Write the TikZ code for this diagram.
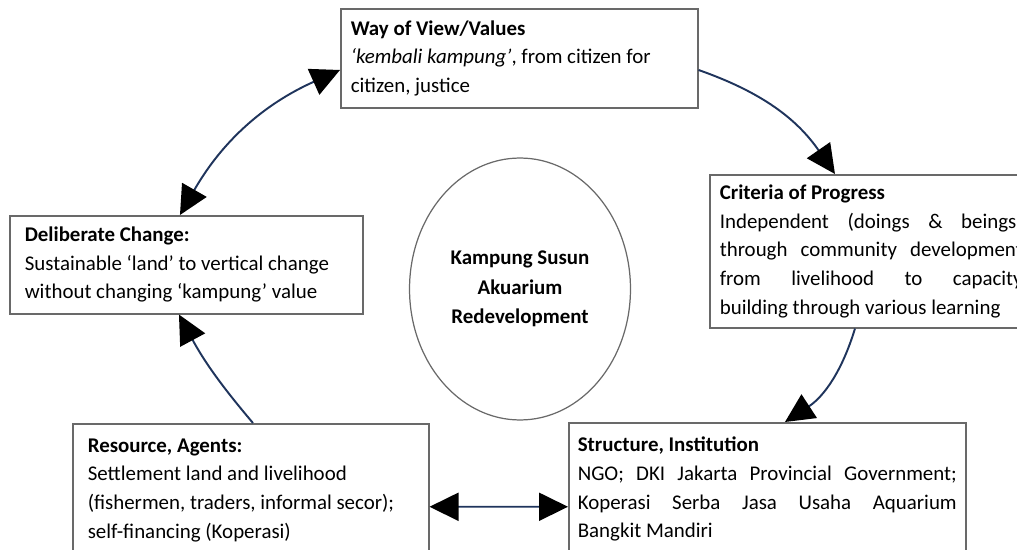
\documentclass[tikz,border=0pt]{standalone}
\usepackage{fontspec}
\setmainfont{Carlito}
\usetikzlibrary{arrows.meta,shapes.geometric}

\definecolor{navy}{RGB}{31,52,92}
\definecolor{frame}{RGB}{105,105,105}
\hyphenpenalty=10000
\tolerance=9999

\begin{document}
\frenchspacing
\begin{tikzpicture}[
  x=0.02cm, y=-0.02cm,
  txt/.style={font=\fontsize{11.9pt}{16.3pt}\selectfont},
  box/.style={txt, draw=frame, line width=0.9pt, fill=white, anchor=north west, inner ysep=0pt},
  hub/.style={ellipse, draw=frame, line width=0.7pt, minimum width=4.42cm, minimum height=5.24cm,
    inner sep=0pt, align=center, font=\fontsize{11.9pt}{16.8pt}\selectfont\bfseries},
  tip/.tip={Triangle[length=0.58cm, width=0.56cm, color=black]},
  flow/.style={draw=navy, line width=1.1pt, -tip},
  both/.style={draw=navy, line width=1.1pt, tip-tip}
]
\useasboundingbox (0,0) rectangle (1017,550);
\clip (0,0) rectangle (1017,550);

% --- centre ---
\node[hub] (hub) at (520,289) {Kampung Susun\\Akuarium\\Redevelopment};

% --- boxes ---
\node[box, inner xsep=0.2cm, text width=6.74cm, minimum height=1.98cm, align=flush left] (way) at (340,8)
  {\textbf{Way of View/Values}\\\textit{`kembali kampung'}, from citizen for\\citizen, justice};
\node[box, inner xsep=0.2cm, text width=6.06cm, minimum height=3.06cm, align=justify] (crit) at (709,174)
  {\textbf{Criteria of Progress}\\Independent (doings \& beings)\linebreak through community development\linebreak
   from livelihood to capacity\linebreak building through various learning};
\node[box, inner xsep=0.3cm, text width=6.46cm, minimum height=1.96cm, align=flush left] (delib) at (9,215)
  {\textbf{Deliberate Change:}\\Sustainable `land' to vertical change\\without changing `kampung' value};
\node[box, inner xsep=0.3cm, text width=6.52cm, minimum height=2.66cm, align=flush left] (res) at (72,423)
  {\textbf{Resource, Agents:}\\Settlement land and livelihood\\(fishermen, traders, informal secor);\\self-financing (Koperasi)};
\node[box, inner xsep=0.18cm, text width=7.58cm, minimum height=2.66cm, align=justify] (str) at (568,422)
  {\textbf{Structure, Institution}\\NGO; DKI Jakarta Provincial Government;\linebreak
   Koperasi Serba Jasa Usaha Aquarium\linebreak Bangkit Mandiri};

% --- cycle arrows ---
\draw[both] ([xshift=3.42cm]delib.north west) to[bend left=18] ([yshift=-1.24cm]way.north west);
\draw[flow] ([yshift=-1.24cm]way.north east) to[bend left=18] ([xshift=2.52cm]crit.north west);
\draw[flow] ([xshift=2.92cm]crit.south west) to[bend left=20] ([xshift=4.34cm]str.north west);
\draw[both] ([yshift=-0.33cm]res.east) -- ([yshift=-0.35cm]str.west);
\draw[flow] ([xshift=3.62cm]res.north west) to[bend left=6] ([xshift=3.4cm]delib.south west);

\end{tikzpicture}
\end{document}
